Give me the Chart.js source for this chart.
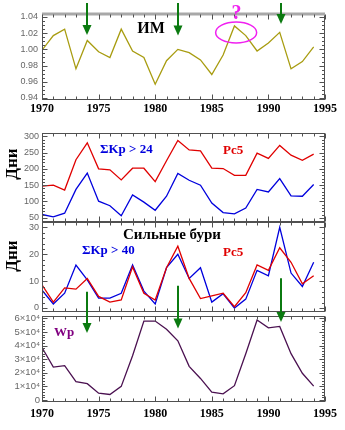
<!DOCTYPE html>
<html><head><meta charset="utf-8">
<script src="https://cdn.jsdelivr.net/npm/chart.js@4"></script>
<style>
html,body{margin:0;padding:0;background:#fff;}
#wrap{position:relative;width:345px;height:430px;overflow:hidden;}
#wrap canvas{position:absolute;left:0;top:0;}
</style></head><body>
<div id="wrap">
<canvas id="c1" width="345" height="430"></canvas>
<canvas id="c2" width="345" height="430"></canvas>
<canvas id="c3" width="345" height="430"></canvas>
<canvas id="c4" width="345" height="430"></canvas>
</div>
<script>
// ---------- data ----------
const years = [1970,1971,1972,1973,1974,1975,1976,1977,1978,1979,1980,1981,1982,1983,1984,1985,1986,1987,1988,1989,1990,1991,1992,1993,1994];
const imValues = [0.999,1.017,1.025,0.976,1.011,0.997,0.990,1.025,0.998,0.990,0.957,0.986,1.000,0.996,0.987,0.969,0.993,1.029,1.017,0.998,1.008,1.021,0.976,0.985,1.003];
const pc5Days = [147,150,135,228,280,200,197,166,202,202,161,225,287,258,255,202,201,180,180,248,232,272,242,226,245];
const kp24Days = [60,53,64,137,187,101,87,56,120,98,73,116,186,165,150,95,66,62,80,137,129,170,117,116,152];
const pc5Storms = [8.6,2.2,7.5,7,11,4.3,2.2,3,15.3,5.5,3,15,23,11,3.5,4.5,5.5,0.5,5.7,16,14,22.4,17,9,12];
const kp40Storms = [6.6,1.5,5.5,16,10.5,3.7,3.7,5.5,16,6.3,1.5,15,20,11,15,2.2,5.3,0,3.3,14,12,30,13,8,17];
const wpValues = [38500,24200,25200,13500,12000,5000,4000,10000,32500,58000,58000,52000,43500,24700,15800,5800,4500,10500,34000,58800,53000,54000,34000,19600,10200];
const xTickYears = [1970,1975,1980,1985,1990,1995];
const imTicks = [0.94,0.96,0.98,1.00,1.02,1.04];
const imTickLabels = ['0.94','0.96','0.98','1.00','1.02','1.04'];
const daysTicks = [50,100,150,200,250,300];
const daysTickLabels = ['50','100','150','200','250','300'];
const stormTicks = [0,10,20,30];
const stormTickLabels = ['0','10','20','30'];
const wpTicks = [0,10000,20000,30000,40000,50000,60000];
const wpTickLabels = ['0','1×10⁴','2×10⁴','3×10⁴','4×10⁴','5×10⁴','6×10⁴'];
const arrowYears = [1974,1982,1991.1];

// ---------- drawing helpers ----------
const SERIF = '"Liberation Serif","Times New Roman",serif';
const SANS = '"Liberation Sans",Arial,sans-serif';
const GREEN = '#0b7a10';

function pts(vals){ return years.map((yr,i)=>({x:yr,y:vals[i]})); }

function drawArrow(ctx, px, y0, tip){
  ctx.save();
  ctx.strokeStyle = GREEN; ctx.fillStyle = GREEN; ctx.lineWidth = 2;
  ctx.beginPath(); ctx.moveTo(px, y0); ctx.lineTo(px, tip-8); ctx.stroke();
  ctx.beginPath(); ctx.moveTo(px-4.5, tip-10); ctx.lineTo(px+4.5, tip-10); ctx.lineTo(px, tip); ctx.closePath(); ctx.fill();
  ctx.restore();
}

const framePlugin = {
  id:'frame',
  afterDraw(chart, args, o){
    const {ctx, chartArea:a, scales:{x,y}} = chart;
    ctx.save();
    const L = Math.round(a.left)+0.5, R = Math.round(a.right)-0.5, T = Math.round(a.top)+0.5, B = Math.round(a.bottom)-0.5;
    ctx.strokeStyle = '#505050'; ctx.lineWidth = 1;
    ctx.strokeRect(L, T, R-L, B-T);
    if (o.topBar){
      ctx.strokeStyle = '#a8a8a8'; ctx.lineWidth = 3;
      ctx.beginPath(); ctx.moveTo(a.left, a.top); ctx.lineTo(a.right, a.top); ctx.stroke();
    }
    ctx.strokeStyle = '#505050'; ctx.lineWidth = 1;
    ctx.beginPath();
    for (let v=Math.ceil(x.min); v<=x.max; v++){
      const px = Math.round(x.getPixelForValue(v))+0.5;
      const len = v%5===0 ? 5 : 3;
      ctx.moveTo(px, B); ctx.lineTo(px, B-len);
      ctx.moveTo(px, T); ctx.lineTo(px, T+len);
    }
    const ms = o.yStep/o.ySub;
    for (let k=Math.ceil(y.min/ms-1e-9); k*ms<=y.max+1e-9; k++){
      const py = Math.round(y.getPixelForValue(k*ms))+0.5;
      const len = (k%o.ySub===0) ? 5 : 2.5;
      ctx.moveTo(L, py); ctx.lineTo(L+len, py);
      ctx.moveTo(R, py); ctx.lineTo(R-len, py);
    }
    ctx.stroke();
    (o.ellipses||[]).forEach(e=>{
      ctx.strokeStyle = e.color; ctx.lineWidth = e.w;
      ctx.beginPath(); ctx.ellipse(x.getPixelForValue(e.x), e.y, e.rx, e.ry, 0, 0, Math.PI*2); ctx.stroke();
    });
    (o.texts||[]).forEach(t=>{
      ctx.save();
      ctx.fillStyle = t.color; ctx.font = t.font;
      ctx.textAlign = t.align||'left'; ctx.textBaseline = t.baseline||'middle';
      ctx.translate(t.x, t.y);
      if (t.rot) ctx.rotate(t.rot);
      ctx.fillText(t.t, 0, 0);
      ctx.restore();
    });
    (o.arrows||[]).forEach(ar=>{
      drawArrow(ctx, Math.round(x.getPixelForValue(ar.x)), ar.y0, ar.tip);
    });
    ctx.restore();
  }
};

function makePanel(id, p){
  return new Chart(document.getElementById(id), {
    type:'line',
    data:{datasets:p.datasets.map(d=>({data:pts(d.values), borderColor:d.color, borderWidth:1.3, pointRadius:0, fill:false, tension:0, order:d.order||0}))},
    options:{
      responsive:false, animation:false, devicePixelRatio:1,
      layout:{padding:{top:p.top, bottom:p.bottom, left:0, right:20}},
      plugins:{legend:{display:false}, tooltip:{enabled:false}, frame:p.frame},
      scales:{
        x:{type:'linear', min:1970, max:1995,
           grid:{display:false, drawTicks:false}, border:{display:false},
           afterBuildTicks:s=>{ s.ticks = xTickYears.map(v=>({value:v})); },
           afterFit:s=>{ s.height = p.xh; },
           ticks:{display:p.xLabels, maxRotation:0, minRotation:0, autoSkip:false, padding:p.xpad, color:'#000',
                  font:{family:SERIF, weight:'bold', size:12}, callback:v=>String(v)}},
        y:{type:'linear', min:p.ymin, max:p.ymax,
           grid:{display:false, drawTicks:false}, border:{display:false},
           afterBuildTicks:s=>{ s.ticks = p.yTicks.map(v=>({value:v})); },
           afterFit:s=>{ s.width = 42; },
           ticks:{autoSkip:false, padding:p.ypad, color:'#666', font:{family:SANS, size:p.yfs||9},
                  callback:(v,i)=>p.yLabels[i]}}
      }
    },
    plugins:[framePlugin]
  });
}

// Panel 1: ИМ
makePanel('c1', {
  top:14, bottom:312, xh:18, xLabels:true, xpad:2,
  ymin:0.9375, ymax:1.0437, yTicks:imTicks, yLabels:imTickLabels, ypad:4,
  datasets:[{values:imValues, color:'#a89c10'}],
  frame:{topBar:true, yStep:0.02, ySub:4,
    ellipses:[{x:1987.15, y:32.5, rx:20.5, ry:10.5, color:'#f020f0', w:1.5}],
    texts:[
      {t:'ИМ', x:151, y:29, color:'#000', font:'bold 16px '+SERIF, align:'center'},
      {t:'?', x:236.5, y:18.5, color:'#f020f0', font:'bold 20px '+SERIF, align:'center', baseline:'alphabetic'}
    ],
    arrows:arrowYears.map((yr,i)=>({x:yr, y0:3, tip:[35,35.5,24][i]}))
  }
});

// Panel 2: days
makePanel('c2', {
  top:133, bottom:208, xh:0, xLabels:false, xpad:0,
  ymin:37, ymax:310, yTicks:daysTicks, yLabels:daysTickLabels, ypad:3,
  datasets:[{values:pc5Days, color:'#e00000', order:0},{values:kp24Days, color:'#0000dd', order:1}],
  frame:{yStep:50, ySub:5,
    texts:[
      {t:'ΣKp > 24', x:100, y:150, color:'#0000dd', font:'bold 13px '+SERIF},
      {t:'Pc5', x:223, y:151, color:'#e00000', font:'bold 13px '+SERIF},
      {t:'Дни', x:13, y:164, color:'#000', font:'bold 17px '+SERIF, align:'center', rot:-Math.PI/2}
    ]
  }
});

// Panel 3: strong storms
makePanel('c3', {
  top:222, bottom:118.5, xh:0, xLabels:false, xpad:0,
  ymin:-1.3, ymax:32, yTicks:stormTicks, yLabels:stormTickLabels, ypad:3,
  datasets:[{values:pc5Storms, color:'#e00000', order:0},{values:kp40Storms, color:'#0000dd', order:1}],
  frame:{yStep:10, ySub:5,
    texts:[
      {t:'Сильные бури', x:172, y:235, color:'#000', font:'bold 15px '+SERIF, align:'center'},
      {t:'ΣKp > 40', x:82, y:251, color:'#0000dd', font:'bold 13px '+SERIF},
      {t:'Pc5', x:223, y:253, color:'#e00000', font:'bold 13px '+SERIF},
      {t:'Дни', x:13, y:256, color:'#000', font:'bold 17px '+SERIF, align:'center', rot:-Math.PI/2}
    ]
  }
});

// Panel 4: Wp
makePanel('c4', {
  top:316, bottom:8, xh:20, xLabels:true, xpad:5,
  ymin:-1500, ymax:61700, yTicks:wpTicks, yLabels:wpTickLabels, ypad:2, yfs:9.5,
  datasets:[{values:wpValues, color:'#4a1050'}],
  frame:{yStep:10000, ySub:5,
    texts:[
      {t:'Wp', x:54, y:336, color:'#800080', font:'bold 13px '+SERIF, baseline:'alphabetic'}
    ],
    arrows:arrowYears.map((yr,i)=>({x:yr, y0:[291.7,285.7,278.3][i], tip:[333,328.5,322][i]}))
  }
});
</script>
</body></html>
